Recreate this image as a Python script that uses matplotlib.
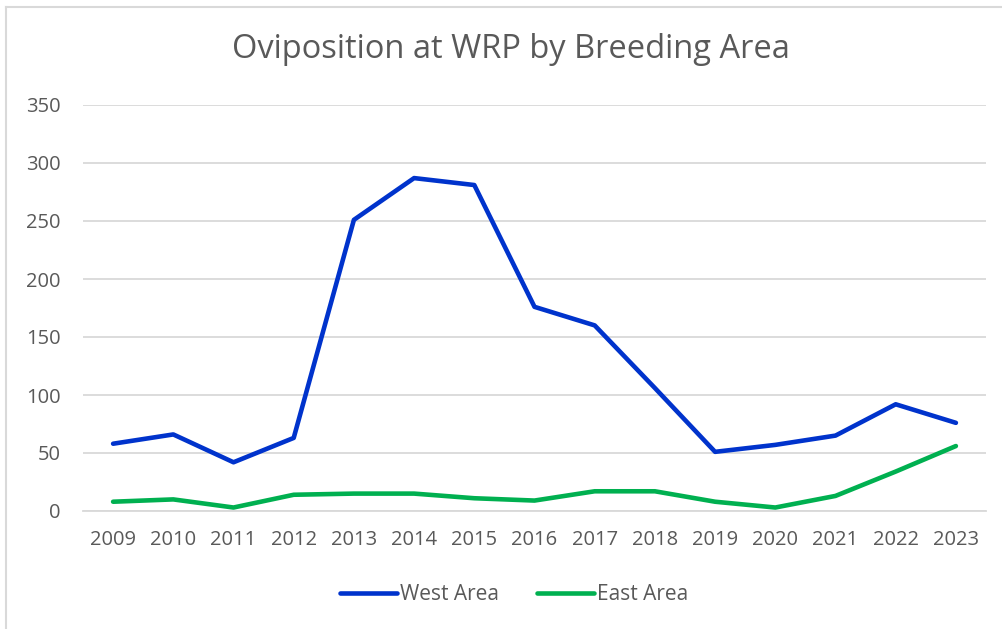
import matplotlib.pyplot as plt
from matplotlib.lines import Line2D

years = ["2009", "2010", "2011", "2012", "2013", "2014", "2015", "2016",
         "2017", "2018", "2019", "2020", "2021", "2022", "2023"]
west = [58, 66, 42, 63, 251, 287, 281, 176, 160, 106, 51, 57, 65, 92, 76]
east = [8, 10, 3, 14, 15, 15, 11, 9, 17, 17, 8, 3, 13, 34, 56]

W, H = 1003, 629
fig = plt.figure(figsize=(W / 100, H / 100), dpi=100)
plt.rcParams['font.family'] = ['Open Sans', 'DejaVu Sans']

# chart border (left and top visible)
fig.add_artist(Line2D([6.5 / W, 6.5 / W], [0, 1 - 6.5 / H], transform=fig.transFigure,
                      color="#d9d9d9", lw=1.5))
fig.add_artist(Line2D([6.5 / W, 1], [1 - 6.5 / H, 1 - 6.5 / H], transform=fig.transFigure,
                      color="#d9d9d9", lw=1.5))

ax = fig.add_axes([83 / W, 1 - 511 / H, (986 - 83) / W, (511 - 105) / H])
x = list(range(len(years)))
ax.plot(x, west, color="#0033cc", lw=3.3, solid_capstyle="round", solid_joinstyle="round", label="West Area")
ax.plot(x, east, color="#00b050", lw=3.3, solid_capstyle="round", solid_joinstyle="round", label="East Area")

ax.set_xlim(-0.5, len(years) - 0.5)
ax.set_ylim(0, 350)
ax.set_yticks(range(0, 351, 50))
ax.set_xticks(x)
ax.set_xticklabels(years)
ax.grid(axis="y", color="#d9d9d9", lw=1.3)
ax.set_axisbelow(True)
for s in ax.spines.values():
    s.set_visible(False)
ax.spines["bottom"].set_visible(True)
ax.spines["bottom"].set_color("#d9d9d9")
ax.spines["bottom"].set_linewidth(1.3)
ax.tick_params(length=0, labelsize=14.5, labelcolor="#595959")
ax.tick_params(axis="y", pad=16)
ax.tick_params(axis="x", pad=14)

fig.text(511 / W, 1 - 49 / H, "Oviposition at WRP by Breeding Area", ha="center", va="center",
         fontsize=23.5, color="#595959")

fig.legend(loc="center", bbox_to_anchor=(514 / W, 1 - 595 / H), ncol=2, frameon=False,
           fontsize=15, labelcolor="#595959", handlelength=2.75, handletextpad=0.15,
           columnspacing=1.8)

fig.savefig("out.png", dpi=100)
